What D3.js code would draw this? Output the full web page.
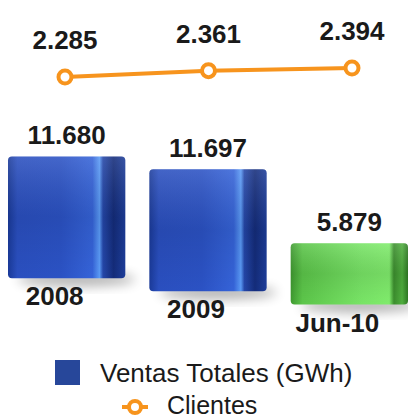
<!DOCTYPE html>
<html>
<head>
<meta charset="utf-8">
<script src="https://cdn.jsdelivr.net/npm/d3@7"></script>
<style>
  body { margin: 0; background: #fff; }
  svg text { font-family: "Liberation Sans", Arial, sans-serif; fill: #1a1a1a; }
</style>
</head>
<body>
<svg id="chart" width="408" height="420"></svg>
<script>
// data
var categories = ["2008", "2009", "Jun-10"];
var ventas = [11680, 11697, 5879];
var ventasLabels = ["11.680", "11.697", "5.879"];
var clientes = [2285, 2361, 2394];
var clientesLabels = ["2.285", "2.361", "2.394"];
var legendNames = ["Ventas Totales (GWh)", "Clientes"];

var svg = d3.select("#chart");
var defs = svg.append("defs");

// gradients for the shiny bars
function barGrad(id, stops) {
  var g = defs.append("linearGradient").attr("id", id)
    .attr("x1", "0%").attr("x2", "100%").attr("y1", "0%").attr("y2", "0%");
  stops.forEach(function(s) {
    g.append("stop").attr("offset", s[0]).attr("stop-color", s[1]);
  });
}
barGrad("blueGrad", [["0%", "#1a3a99"], ["8%", "#2a4fbf"], ["45%", "#2b52c4"], ["72%", "#3563d8"], ["78%", "#5a9af5"], ["81%", "#2446a8"], ["90%", "#142c7a"], ["100%", "#1d3d9a"]]);
barGrad("greenGrad", [["0%", "#3f9a30"], ["10%", "#5cc64a"], ["60%", "#78e466"], ["84%", "#80ec6c"], ["88%", "#3c8e2e"], ["95%", "#4fae3e"], ["100%", "#2f7a24"]]);
var vg = defs.append("linearGradient").attr("id", "vShade")
  .attr("x1", "0%").attr("x2", "0%").attr("y1", "0%").attr("y2", "100%");
vg.append("stop").attr("offset", "0%").attr("stop-color", "#fff").attr("stop-opacity", 0.12);
vg.append("stop").attr("offset", "50%").attr("stop-color", "#000").attr("stop-opacity", 0.08);
vg.append("stop").attr("offset", "100%").attr("stop-color", "#000").attr("stop-opacity", 0.0);
defs.append("filter").attr("id", "blur").attr("x", "-50%").attr("y", "-50%").attr("width", "200%").attr("height", "200%")
  .append("feGaussianBlur").attr("stdDeviation", 6);

// scales
var x = d3.scaleBand().domain(categories).range([8, 408]).paddingInner(0.17);
var h = d3.scaleLinear().domain([0, 11697]).range([0, 122]);
// the floor is drawn in perspective: it drops toward the right
var floor = d3.scaleLinear().domain([0, 408]).range([272, 310]);
var xLine = d3.scalePoint().domain(categories).range([65, 352]);
var yLine = d3.scaleLinear().domain([2000, 2500]).range([100.5, 59.2]);

function barCx(d) { return x(d) + x.bandwidth() / 2; }
function barBase(d) { return floor(barCx(d)); }
function barTop(d, i) { return barBase(d) - h(ventas[i]); }

var bars = svg.append("g");

// soft shadows
bars.selectAll(".shadow").data(categories).enter().append("ellipse")
  .attr("cx", function(d) { return barCx(d) + 10; })
  .attr("cy", function(d) { return barBase(d) + 1; })
  .attr("rx", x.bandwidth() / 2)
  .attr("ry", 7)
  .attr("fill", "#000").attr("opacity", 0.3)
  .attr("filter", "url(#blur)");

bars.selectAll(".bar").data(categories).enter().append("rect")
  .attr("x", function(d) { return x(d); })
  .attr("y", barTop)
  .attr("width", x.bandwidth())
  .attr("height", function(d, i) { return h(ventas[i]); })
  .attr("rx", 4)
  .attr("fill", function(d, i) { return i < 2 ? "url(#blueGrad)" : "url(#greenGrad)"; });

bars.selectAll(".shade").data(categories).enter().append("rect")
  .attr("x", function(d) { return x(d); })
  .attr("y", barTop)
  .attr("width", x.bandwidth())
  .attr("height", function(d, i) { return h(ventas[i]); })
  .attr("rx", 4)
  .attr("fill", "url(#vShade)");

// bar value labels
svg.selectAll(".vlab").data(categories).enter().append("text")
  .attr("x", barCx)
  .attr("y", function(d, i) { return barTop(d, i) - 12; })
  .attr("text-anchor", "middle")
  .style("font-size", "26px").style("font-weight", "bold")
  .text(function(d, i) { return ventasLabels[i]; });

// category labels
svg.selectAll(".clab").data(categories).enter().append("text")
  .attr("x", function(d) { return barCx(d) - 12; })
  .attr("y", function(d) { return barBase(d) + 27; })
  .attr("text-anchor", "middle")
  .style("font-size", "26px").style("font-weight", "bold")
  .text(function(d) { return d; });

// clientes line
var line = d3.line()
  .x(function(d, i) { return xLine(categories[i]); })
  .y(function(d) { return yLine(d); });

svg.append("path").datum(clientes)
  .attr("fill", "none").attr("stroke", "#f7941d").attr("stroke-width", 4)
  .attr("d", line);

svg.selectAll(".pt").data(clientes).enter().append("circle")
  .attr("cx", function(d, i) { return xLine(categories[i]); })
  .attr("cy", function(d) { return yLine(d); })
  .attr("r", 6.5)
  .attr("fill", "#fff").attr("stroke", "#f7941d").attr("stroke-width", 4);

svg.selectAll(".llab").data(clientes).enter().append("text")
  .attr("x", function(d, i) { return xLine(categories[i]); })
  .attr("y", function(d) { return yLine(d) - 28; })
  .attr("text-anchor", "middle")
  .style("font-size", "26px").style("font-weight", "bold")
  .text(function(d, i) { return clientesLabels[i]; });

// legend
var lg = svg.append("g");
lg.append("rect").attr("x", 55).attr("y", 360).attr("width", 25).attr("height", 25).attr("fill", "#27479a");
lg.append("text").attr("x", 100).attr("y", 382).style("font-size", "26px").text(legendNames[0]);
lg.append("line").attr("x1", 122).attr("x2", 148).attr("y1", 407).attr("y2", 407)
  .attr("stroke", "#f7941d").attr("stroke-width", 4);
lg.append("circle").attr("cx", 135).attr("cy", 407).attr("r", 6)
  .attr("fill", "#fff").attr("stroke", "#f7941d").attr("stroke-width", 4);
lg.append("text").attr("x", 167).attr("y", 414).style("font-size", "25px").text(legendNames[1]);
</script>
</body>
</html>
